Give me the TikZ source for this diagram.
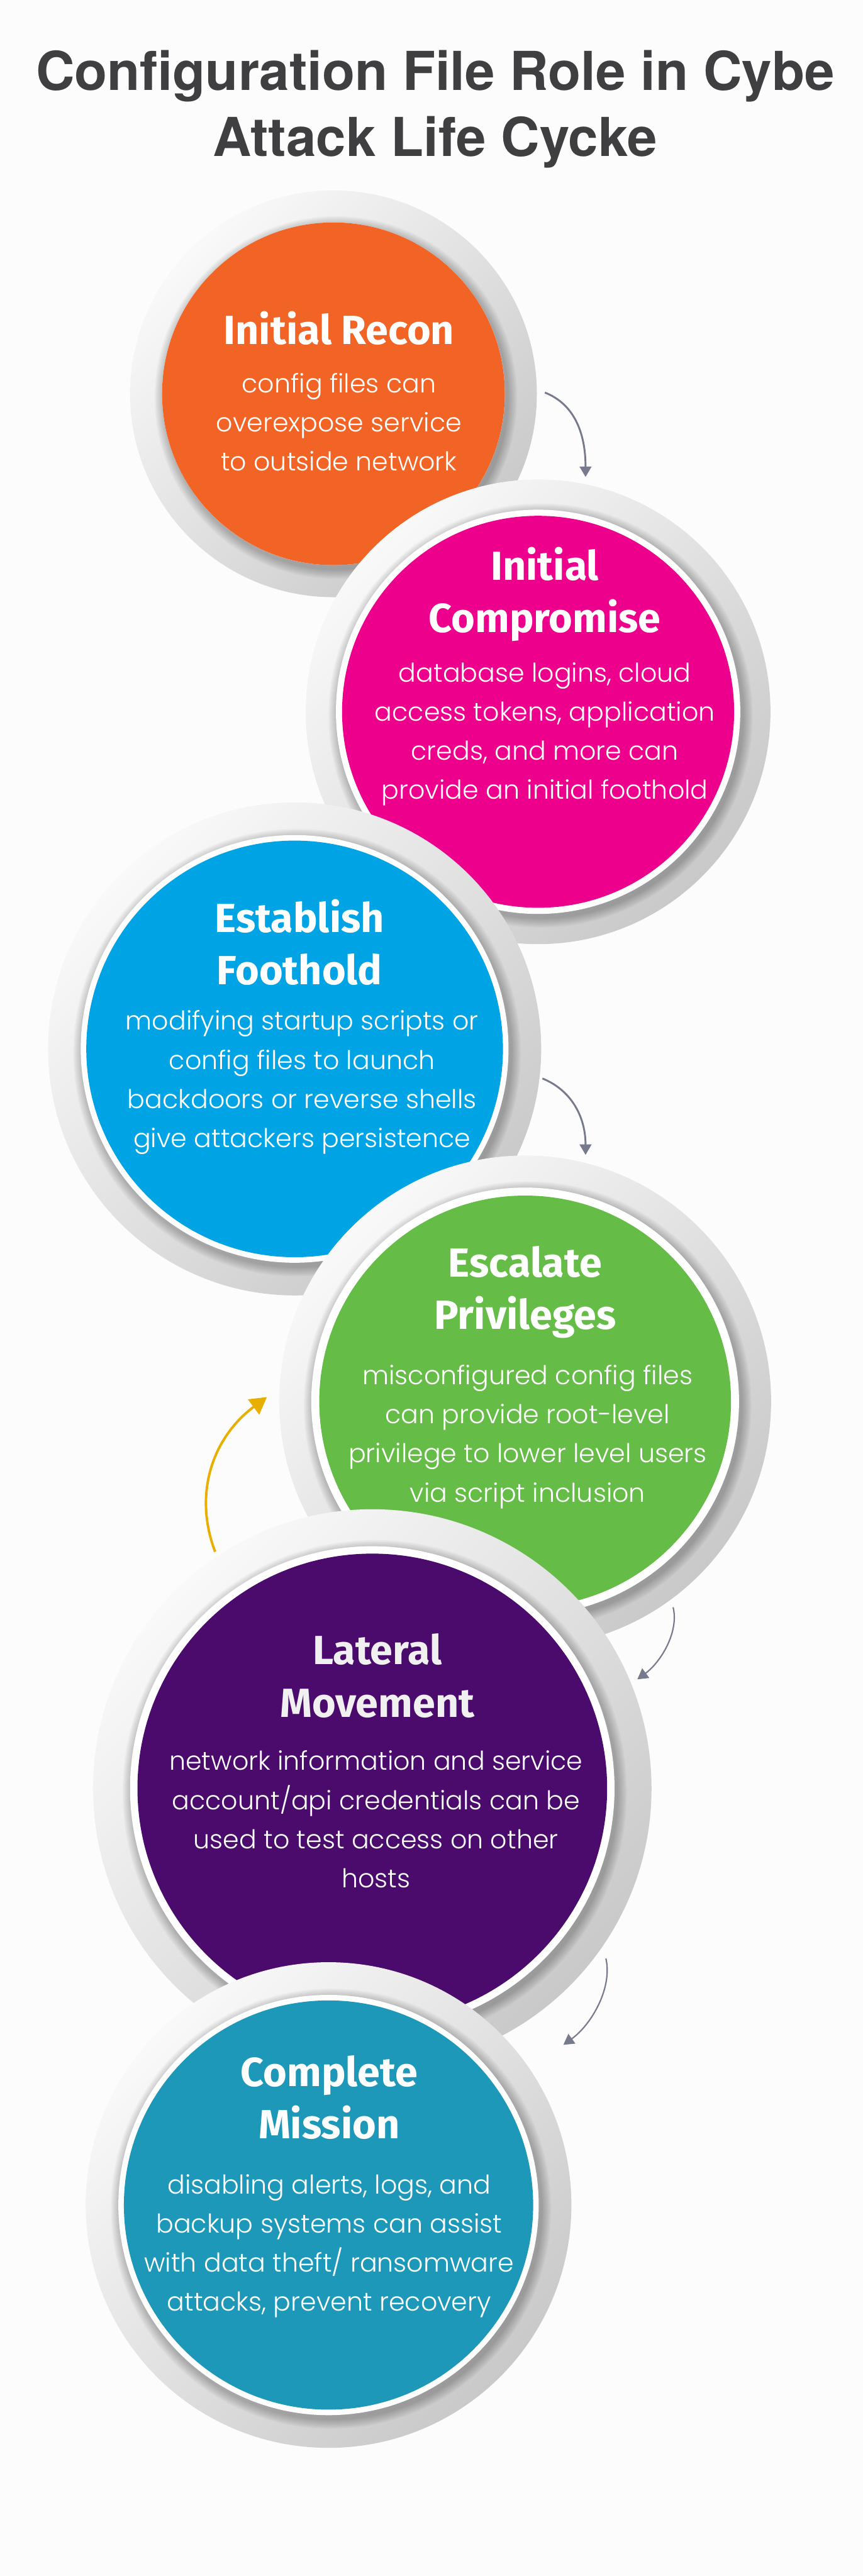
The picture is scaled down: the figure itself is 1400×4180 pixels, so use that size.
\documentclass[tikz,border=0pt]{standalone}
\usepackage{fontspec}
\usepackage{tikz}
\usetikzlibrary{arrows.meta, positioning, calc}
\usepackage{xcolor}

\newfontfamily\headfont{TeX Gyre Heros}
\newfontfamily\stagefont{Fira Sans}
\newfontfamily\notefont{Poppins Light}

\definecolor{pagebg}{HTML}{FCFCFC}
\definecolor{headgray}{HTML}{3F3F41}
\definecolor{ringlight}{HTML}{F9F9F9}
\definecolor{ringdark}{HTML}{C9C9C9}
\definecolor{recon}{HTML}{F26426}
\definecolor{comp}{HTML}{EC008C}
\definecolor{foot}{HTML}{00A4E4}
\definecolor{escal}{HTML}{65BC46}
\definecolor{lateral}{HTML}{4A0B6D}
\definecolor{mission}{HTML}{1E98B9}
\definecolor{flowgray}{HTML}{767A8C}
\definecolor{climb}{HTML}{E8AE00}

\begin{document}
\begin{tikzpicture}[x=1pt,y=-1pt,
  stagetitle/.style={font={\stagefont\bfseries\fontsize{66}{85}\selectfont}, text=white, align=center, anchor=base, inner sep=0pt},
  stagenote/.style={font={\notefont\fontsize{42}{63.5}\selectfont}, text=white, align=center, anchor=base, inner sep=0pt},
  flow/.style={draw=flowgray, line width=3pt, -{Triangle[length=17pt,width=19pt]}},
  thinflow/.style={flow, line width=2.2pt}]
  \useasboundingbox (0,0) rectangle (1400,4180);
  \fill[pagebg] (0,0) rectangle (1400,4180);

  % heading (base = last line)
  \node[font={\headfont\bfseries\fontsize{87}{108}\selectfont}, text=headgray, align=center, anchor=base, inner sep=0pt]
    (heading) at (706,254) {Configuration File Role in Cybe\\Attack Life Cycke};

  % stages: ring, shadow, white edge, colour disc
  \foreach \nm/\cx/\cy/\ro/\rw/\rf in {recon/541/639/330/278/278, comp/873/1155/377/328/318,
      foot/478/1702/400/347/338, escal/852/2274/399/347/334,
      lateral/604/2902/453/393/381, mission/533/3578/394/341/332}{
    \shade[top color=ringlight, bottom color=ringdark, shading angle=45] (\cx,\cy) circle[radius=\ro];
    \foreach \k in {1,...,8}
      \fill[black, opacity=0.03] (\cx+4,\cy+6) circle[radius=\rw+2*\k];
    \fill[white] (\cx,\cy) circle[radius=\rw];
    \node[circle, fill=\nm, minimum size={2*\rf*1pt}, inner sep=0pt] (\nm) at (\cx,\cy) {};
  }

  \node[stagetitle] (recon-title) at (550,559) {Initial Recon};
  \node[stagenote] (recon-note) at (550,764) {config files can\\overexpose service\\to outside network};

  \node[stagetitle] (comp-title) at (884,1026) {Initial\\Compromise};
  \node[stagenote] (comp-note) at (884,1297) {database logins, cloud\\access tokens, application\\creds, and more can\\provide an initial foothold};

  \node[stagetitle] (foot-title) at (486,1598) {Establish\\Foothold};
  \node[stagenote] (foot-note) at (490,1862) {modifying startup scripts or\\config files to launch\\backdoors or reverse shells\\give attackers persistence};

  \node[stagetitle] (escal-title) at (852,2157) {Escalate\\Privileges};
  \node[stagenote] (escal-note) at (856,2437) {misconfigured config files\\can provide root-level\\privilege to lower level users\\via script inclusion};

  \node[stagetitle, text=gray!12] (lateral-title) at (612,2786) {Lateral\\Movement};
  \node[stagenote] (lateral-note) at (610,3063) {network information and service\\account/api credentials can be\\used to test access on other\\hosts};

  \node[stagetitle] (mission-title) at (534,3470) {Complete\\Mission};
  \node[stagenote] (mission-note) at (534,3750) {disabling alerts, logs, and\\backup systems can assist\\with data theft/ ransomware\\attacks, prevent recovery};

  % arrows between stages
  \coordinate (a1s) at (884,637);  \coordinate (a1e) at (950,774);
  \coordinate (a2s) at (880,1750); \coordinate (a2e) at (950,1874);
  \coordinate (a3s) at (349,2518); \coordinate (a3e) at (433,2267);
  \coordinate (a4s) at (1092,2608); \coordinate (a4e) at (1034,2725);
  \coordinate (a5s) at (983,3178); \coordinate (a5e) at (914,3318);
  \draw[flow] (a1s) .. controls (930,655) and (950,700) .. (a1e);
  \draw[flow] (a2s) .. controls (925,1768) and (950,1810) .. (a2e);
  \draw[flow, draw=climb, line width=4pt, -{Triangle[length=27pt,width=30pt]}]
    (a3s) .. controls (312,2420) and (348,2330) .. (a3e);
  \draw[thinflow] (a4s) .. controls (1102,2648) and (1072,2697) .. (a4e);
  \draw[thinflow] (a5s) .. controls (994,3225) and (960,3285) .. (a5e);
\end{tikzpicture}
\end{document}
